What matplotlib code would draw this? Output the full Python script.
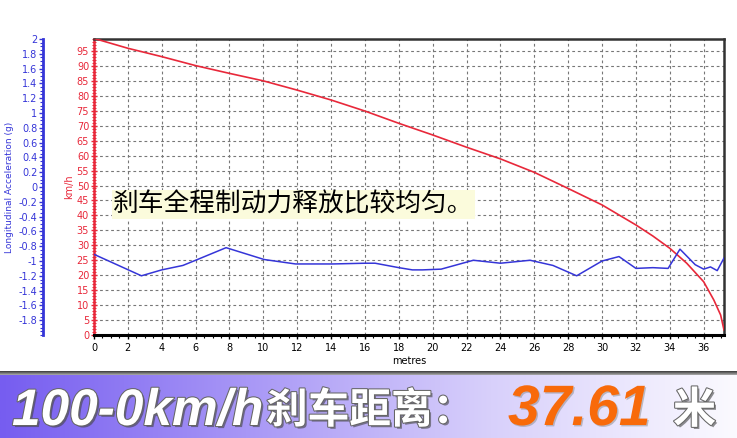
import matplotlib.pyplot as plt
import matplotlib.patheffects as pe
from matplotlib.ticker import MultipleLocator, FuncFormatter
from matplotlib.colors import LinearSegmentedColormap
import numpy as np

# Speed trace (km/h) against distance (metres)
speed_dist = [0, 2, 4, 6, 8, 10, 12, 14, 16, 18, 20, 22, 24, 26, 28, 30,
              32, 33, 34, 35, 36, 36.6, 37.0, 37.2]
speed_kmh = [99.2, 95.9, 93.1, 90.1, 87.5, 85.0, 81.9, 78.6, 74.9, 70.8, 66.9,
             62.8, 58.9, 54.4, 49.0, 43.5, 36.8, 33.1, 29.0, 24.0, 17.8,
             11.7, 6.7, 1.7]

# Longitudinal acceleration (g) against distance
accel_dist = [0, 2.8, 4.0, 5.25, 6.0, 7.8, 10.05, 11.9, 14.1, 16.0, 16.6, 18.0,
              18.8, 19.4, 20.5, 22.4, 24.0, 25.75, 27.1, 28.5, 30.0, 31.0, 32.0,
              33.0, 33.9, 34.6, 35.5, 36.0, 36.4, 36.8, 37.2]
accel_g = [-0.91, -1.20, -1.12, -1.06, -0.99, -0.82, -0.98, -1.04, -1.04, -1.03,
           -1.03, -1.09, -1.12, -1.12, -1.11, -0.99, -1.03, -0.99, -1.06, -1.20,
           -1.00, -0.94, -1.10, -1.09, -1.10, -0.84, -1.05, -1.11, -1.08, -1.13,
           -0.96]

x_ticks = np.arange(0, 37, 2)
kmh_ticks = np.arange(0, 100, 5)
g_ticks = np.arange(-1.8, 2.01, 0.2)

note = "刹车全程制动力释放比较均匀。"
title_a = "100-0km/h"
title_b = "刹车距离："
title_c = "37.61"
title_d = "米"

RED = "#e8283a"
BLUE = "#3535d8"

W, H = 737, 438
fig = plt.figure(figsize=(W / 100, H / 100), dpi=100)

# zone graphique
ax = fig.add_axes([94 / W, 1 - 335 / H, 630 / W, 296 / H])
ax.plot(speed_dist, speed_kmh, color=RED, lw=1.2, zorder=3)
ax.set_xlim(0, 37.2)
ax.set_ylim(0, 99)
ax.set_xticks(x_ticks)
ax.set_yticks(kmh_ticks)
ax.xaxis.set_minor_locator(MultipleLocator(0.5))
ax.yaxis.set_minor_locator(MultipleLocator(1))
ax.grid(True, which="major", color="#777777", lw=0.8, ls=(0, (2.5, 2.5)))
ax.tick_params(axis="x", which="major", labelsize=7, length=3, width=1, pad=3)
ax.tick_params(axis="x", which="minor", length=2, width=0.8)
ax.tick_params(axis="y", which="major", colors=RED, labelsize=7, direction="inout",
               length=5, width=1, pad=1)
ax.tick_params(axis="y", which="minor", colors=RED, direction="inout", length=3, width=0.8)
ax.set_xlabel("metres", fontsize=7, labelpad=2)
ax.set_ylabel("km/h", fontsize=7, color=RED, labelpad=2)
for side in ["top", "right"]:
    ax.spines[side].set_color("#333333")
    ax.spines[side].set_linewidth(1.8)
ax.spines["bottom"].set_color("black")
ax.spines["bottom"].set_linewidth(2.2)
ax.spines["left"].set_color(RED)
ax.spines["left"].set_linewidth(1.8)

# axe acceleration (bleu) a gauche
ax2 = ax.twinx()
ax2.plot(accel_dist, accel_g, color=BLUE, lw=1.1, zorder=2)
ax2.set_ylim(-2, 2)
ax2.yaxis.tick_left()
ax2.yaxis.set_label_position("left")
ax2.spines["left"].set_position(("outward", 36.7))
ax2.spines["left"].set_color(BLUE)
ax2.spines["left"].set_linewidth(2)
for side in ["top", "right", "bottom"]:
    ax2.spines[side].set_visible(False)
ax2.set_yticks(g_ticks)
ax2.yaxis.set_major_formatter(FuncFormatter(lambda v, p: "%g" % (round(v, 1) + 0.0)))
ax2.yaxis.set_minor_locator(MultipleLocator(0.05))
ax2.tick_params(axis="y", which="major", colors=BLUE, labelsize=7, length=3, width=1, pad=1)
ax2.tick_params(axis="y", which="minor", colors=BLUE, length=2, width=0.8)
ax2.set_ylabel("Longitudinal Acceleration (g)", fontsize=6.5, color=BLUE, labelpad=3)

# texte commentaire
ax.text(0.03, 0.44, note, transform=ax.transAxes, fontsize=18.5,
        family=["Noto Sans CJK SC", "DejaVu Sans"], color="black", va="center", ha="left",
        bbox=dict(boxstyle="square,pad=0.05", facecolor="#fbfbdc", edgecolor="none"),
        zorder=5)

# bandeau du bas
band = fig.add_axes([0, 0, 1, 63 / H])
cmap = LinearSegmentedColormap.from_list("band", ["#765df0", "#a897f6", "#d8d0fb", "#fbfaff"])
band.imshow(np.linspace(0, 1, 256)[None, :], aspect="auto", cmap=cmap, extent=(0, 1, 0, 1))
band.set_axis_off()
sep = fig.add_axes([0, 63 / H, 1, 4 / H])
sep.imshow(np.linspace(0, 1, 16)[:, None], aspect="auto",
           cmap=LinearSegmentedColormap.from_list("sep", ["#3a3a3a", "#aaaaaa"]),
           extent=(0, 1, 0, 1))
sep.set_axis_off()

outline = [pe.withSimplePatchShadow(offset=(1.5, -1.5), shadow_rgbFace="#444444", alpha=0.6),
           pe.withStroke(linewidth=1.5, foreground="#666666")]
base_y = 1 - 425 / H
fig.text(12 / W, base_y, title_a, fontsize=37, fontweight="bold", style="italic",
         family="Liberation Sans", color="white", va="baseline", path_effects=outline)
fig.text(266 / W, base_y + 2 / H, title_b, fontsize=30, fontweight="bold",
         family=["Noto Sans CJK SC", "DejaVu Sans"], color="white", va="baseline",
         path_effects=outline)
fig.text(508 / W, base_y, title_c, fontsize=41, fontweight="bold", style="italic",
         family="Liberation Sans", color="#f86a0a", va="baseline",
         path_effects=[pe.withSimplePatchShadow(offset=(1, -1), shadow_rgbFace="#888888", alpha=0.5)])
fig.text(673 / W, base_y + 2 / H, title_d, fontsize=31, fontweight="bold",
         family=["Noto Sans CJK SC", "DejaVu Sans"], color="white", va="baseline",
         path_effects=outline)

fig.savefig("out.png", dpi=100)
